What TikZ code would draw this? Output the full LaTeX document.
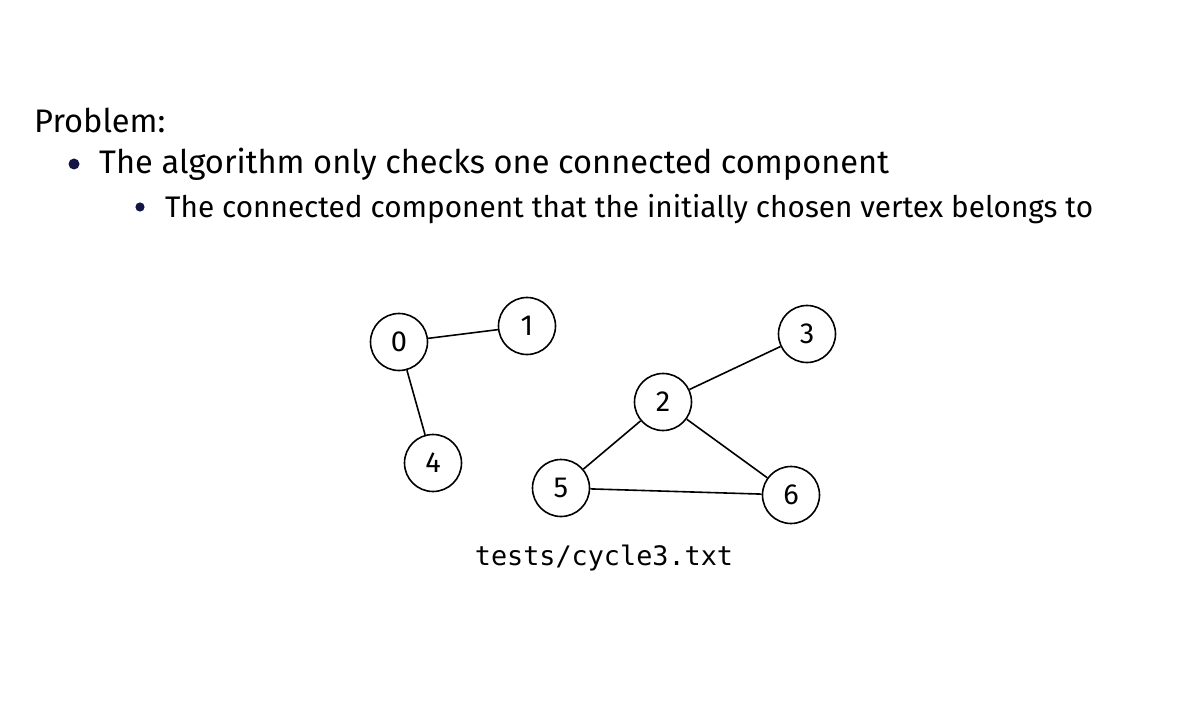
\documentclass[tikz,border=0pt]{standalone}
\usepackage{fontspec}
\setmainfont{Fira Sans}
\setmonofont{DejaVu Sans Mono}
\definecolor{navy}{RGB}{20,20,70}
\begin{document}
\begin{tikzpicture}[x=1pt,y=-1pt,
  v/.style={circle,draw,line width=1.6pt,minimum size=57pt,inner sep=0pt,font=\fontsize{29}{34}\selectfont},
  e/.style={line width=1.6pt},
  txt/.style={anchor=west,inner sep=0pt}]
\useasboundingbox (0,0) rectangle (1203,714);
\node[txt,font=\fontsize{32.6}{38}\selectfont] (p) at (34,120) {Problem:};
\fill[navy] (74,164) circle (5.5pt);
\node[txt,font=\fontsize{32.6}{38}\selectfont] (b1) at (99,164) {The algorithm only checks one connected component};
\fill[navy] (140,207) circle (4.6pt);
\node[txt,font=\fontsize{29.75}{34}\selectfont] (b2) at (165,209) {The connected component that the initially chosen vertex belongs to};
\node[v] (n0) at (399,342) {0};
\node[v] (n1) at (527,326) {1};
\node[v] (n3) at (807,334) {3};
\node[v] (n2) at (663,402) {2};
\node[v] (n4) at (433,463) {4};
\node[v] (n5) at (561,488) {5};
\node[v] (n6) at (791,495) {6};
\draw[e] (n0)--(n1); \draw[e] (n0)--(n4);
\draw[e] (n2)--(n3); \draw[e] (n2)--(n5); \draw[e] (n2)--(n6); \draw[e] (n5)--(n6);
\node[font=\ttfamily\fontsize{26.8}{30}\selectfont] (lab) at (604,558) {tests/cycle3.txt};
\end{tikzpicture}
\end{document}
